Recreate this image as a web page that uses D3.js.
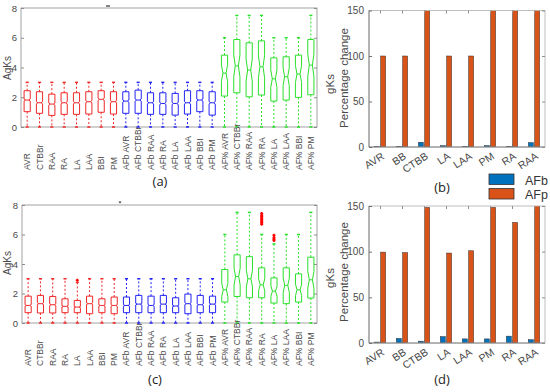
<!DOCTYPE html>
<html>
<head>
<meta charset="utf-8">
<script src="https://cdn.jsdelivr.net/npm/d3@7"></script>
<style>
  body { margin: 0; background: #fff; }
  svg { display: block; font-family: Arial, "Liberation Sans", sans-serif; }
</style>
</head>
<body>
<svg id="chart" width="550" height="392"></svg>
<script>
// ---- box plot data (panels a and c) ----
const boxCategories = ["AVR", "CTBBr", "RAA", "RA", "LA", "LAA", "BBI", "PM",
  "AFb AVR", "AFb CTBBr", "AFb RAA", "AFb RA", "AFb LA", "AFb LAA", "AFb BBI", "AFb PM",
  "AF% AVR", "AF% CTBBr", "AF% RAA", "AF% RA", "AF% LA", "AF% LAA", "AF% BBI", "AF% PM"];
const boxGroup = [0, 0, 0, 0, 0, 0, 0, 0, 1, 1, 1, 1, 1, 1, 1, 1, 2, 2, 2, 2, 2, 2, 2, 2];
const yTicksBox = [0, 2, 4, 6, 8];

const q1A  = [1.03, 0.92, 0.78, 0.85, 0.85, 0.87, 0.99, 0.87, 0.92, 0.92, 0.85, 0.85, 0.80, 0.87, 1.03, 0.80, 2.08, 2.30, 2.03, 2.15, 1.74, 1.81, 1.99, 2.17];
const medA = [1.81, 1.63, 1.54, 1.63, 1.63, 1.70, 1.86, 1.70, 1.74, 1.81, 1.63, 1.58, 1.58, 1.63, 1.81, 1.63, 3.62, 4.11, 3.83, 4.05, 3.24, 3.38, 3.56, 4.16];
const q3A  = [2.44, 2.37, 2.21, 2.30, 2.30, 2.37, 2.44, 2.37, 2.37, 2.48, 2.30, 2.30, 2.26, 2.44, 2.44, 2.37, 4.83, 5.88, 5.66, 5.79, 4.65, 4.72, 4.83, 5.88];
const loA  = [0, 0, 0, 0, 0, 0, 0, 0, 0, 0, 0, 0, 0, 0, 0, 0, 0, 0, 0, 0, 0, 0, 0, 0];
const hiA  = [3, 3, 3, 3, 3, 3, 3, 3, 3, 3, 3, 3, 3, 3, 3, 3, 6, 7.5, 7.5, 7.5, 6, 6, 6, 7.5];

const q1C  = [0.70, 0.68, 0.68, 0.70, 0.70, 0.63, 0.70, 0.63, 0.70, 0.70, 0.70, 0.70, 0.70, 0.63, 0.70, 0.70, 1.42, 1.80, 1.71, 1.71, 1.35, 1.31, 1.42, 1.69];
const medC = [1.19, 1.31, 1.24, 1.13, 1.08, 1.31, 1.19, 1.19, 1.19, 1.28, 1.19, 1.28, 1.15, 1.31, 1.24, 1.28, 2.25, 3.15, 3.00, 2.59, 2.16, 2.55, 2.25, 2.93];
const q3C  = [1.82, 1.87, 1.80, 1.64, 1.53, 1.82, 1.64, 1.76, 1.76, 1.87, 1.82, 1.87, 1.71, 1.96, 1.87, 1.82, 3.63, 4.62, 4.50, 3.74, 3.06, 3.74, 3.33, 4.46];
const loC  = [0, 0, 0, 0, 0, 0, 0, 0, 0, 0, 0, 0, 0, 0, 0, 0, 0, 0, 0, 0, 0, 0, 0, 0];
const hiC  = [3, 3, 3, 3, 2.75, 3, 3, 3, 3, 3, 3, 3, 3, 3, 3, 3, 6, 7.5, 7.5, 6, 5.36, 6, 6, 7.5];
const outlierBoxC = [4, 19, 19, 19, 19, 19, 19, 19, 19, 20, 20, 20, 20];
const outlierValC = [2.9, 6.7, 6.8, 6.9, 7.0, 7.1, 7.2, 7.3, 7.42, 5.6, 5.7, 5.8, 5.95];

// ---- bar data (panels b and d) ----
const barCategories = ["AVR", "BB", "CTBB", "LA", "LAA", "PM", "RA", "RAA"];
const barSeries = ["AFb", "AFp"];
const yTicksBar = [0, 50, 100, 150];
const afbB = [0.3, 0.8, 5.2, 1.5, 0.8, 1.5, 0.8, 4.8];
const afpB = [100, 100, 165, 100, 100, 165, 165, 165];
const afbD = [1.0, 5.0, 2.0, 7.0, 4.5, 4.5, 7.5, 3.6];
const afpD = [99.5, 99, 148.5, 98.5, 101, 148.5, 132, 152];

// ---- styles ----
const axisGray = "#8c8c8c";
const textGray = "#4a4a4a";
const groupColors = ["#f02828", "#2424f4", "#2ae02a"];
const groupSamples = [1000, 1000, 60];   // sample size behind the notch width
const seriesColors = ["#0072BD", "#D95319"];

const svg = d3.select("#chart");

function boxPanel(p) {
  const n = boxCategories.length;
  const x = d3.scaleLinear().domain([0.5, n + 0.5]).range([p.left, p.right]);
  const y = d3.scaleLinear().domain([0, 8]).range([p.bottom, p.top]);
  const g = svg.append("g");

  g.append("rect")
    .attr("x", p.left).attr("y", p.top)
    .attr("width", p.right - p.left).attr("height", p.bottom - p.top)
    .attr("fill", "none").attr("stroke", axisGray).attr("stroke-width", 0.8);

  const ax = g.append("g").attr("transform", `translate(${p.left},0)`)
    .call(d3.axisLeft(y).tickValues(yTicksBox).tickSize(-3).tickPadding(4));
  ax.select(".domain").remove();
  ax.selectAll("line").attr("stroke", axisGray);
  ax.selectAll("text").attr("fill", textGray).attr("font-size", 9.5).attr("font-family", null);

  const axr = g.append("g").attr("transform", `translate(${p.right},0)`)
    .call(d3.axisRight(y).tickValues(yTicksBox).tickSize(-3).tickFormat(""));
  axr.select(".domain").remove();
  axr.selectAll("line").attr("stroke", axisGray);

  g.append("text")
    .attr("transform", `translate(11,${p.ylabelY}) rotate(-90)`)
    .attr("text-anchor", "middle").attr("font-size", 10).attr("fill", textGray)
    .text("AgKs");

  const hw = x(1.25) - x(1);
  const ind = hw * 0.5;
  const boxes = g.selectAll(".box").data(d3.range(n)).join("g").attr("class", "box")
    .attr("fill", "none")
    .attr("stroke", i => groupColors[boxGroup[i]]);

  boxes.each(function (i) {
    const b = d3.select(this);
    const cx = x(i + 1);
    const q1 = p.q1[i], q3 = p.q3[i], md = p.med[i];
    const nh = 1.57 * (q3 - q1) / Math.sqrt(groupSamples[boxGroup[i]]);
    const path = d3.path();
    path.moveTo(cx - hw, y(q1));
    path.lineTo(cx - hw, y(md - nh));
    path.lineTo(cx - hw + ind, y(md));
    path.lineTo(cx - hw, y(md + nh));
    path.lineTo(cx - hw, y(q3));
    path.lineTo(cx + hw, y(q3));
    path.lineTo(cx + hw, y(md + nh));
    path.lineTo(cx + hw - ind, y(md));
    path.lineTo(cx + hw, y(md - nh));
    path.lineTo(cx + hw, y(q1));
    path.closePath();
    b.append("path").attr("d", path.toString()).attr("stroke-width", 1);
    b.append("line").attr("x1", cx - hw + ind).attr("x2", cx + hw - ind)
      .attr("y1", y(md)).attr("y2", y(md)).attr("stroke-width", 1);
    [[q3, p.hi[i]], [q1, p.lo[i]]].forEach(([a, e]) => {
      b.append("line").attr("x1", cx).attr("x2", cx).attr("y1", y(a)).attr("y2", y(e))
        .attr("stroke-dasharray", "2,2").attr("stroke-width", 1);
      b.append("line").attr("x1", cx - hw * 0.5).attr("x2", cx + hw * 0.5)
        .attr("y1", y(e)).attr("y2", y(e)).attr("stroke-width", 1.5);
    });
  });

  if (p.outBox) {
    g.selectAll(".outlier").data(d3.range(p.outBox.length)).join("path")
      .attr("d", k => {
        const cx = x(p.outBox[k] + 1), cy = y(p.outVal[k]);
        return `M${cx - 1.5},${cy}H${cx + 1.5}M${cx},${cy - 1.5}V${cy + 1.5}`;
      })
      .attr("stroke", "#ff0000").attr("stroke-width", 1.6).attr("fill", "none");
  }

  g.selectAll(".cat").data(boxCategories).join("text")
    .attr("transform", (d, i) => `translate(${x(i + 1) + 3},${p.labelBase}) rotate(-90)`)
    .attr("font-size", 8.5).attr("fill", textGray)
    .text(d => d);

  g.append("text").attr("x", p.capX).attr("y", p.capY).attr("text-anchor", "middle")
    .attr("font-family", "'Open Sans', sans-serif").attr("font-size", 13).attr("fill", "#222")
    .text(p.caption);
}

function barPanel(p) {
  const n = barCategories.length;
  const x = d3.scaleLinear().domain([0.5, n + 0.5]).range([p.left, p.right]);
  const y = d3.scaleLinear().domain([0, 150]).range([p.bottom, p.top]);
  const g = svg.append("g");
  const clipId = "clip" + p.caption.replace(/\W/g, "");
  g.append("clipPath").attr("id", clipId).append("rect")
    .attr("x", p.left).attr("y", p.top).attr("width", p.right - p.left).attr("height", p.bottom - p.top);

  const bw = x(1.229) - x(1);
  const off = x(1.143) - x(1);
  const series = [p.afb, p.afp];
  const bars = g.append("g").attr("clip-path", `url(#${clipId})`);
  series.forEach((vals, s) => {
    bars.selectAll(".s" + s).data(vals).join("rect")
      .attr("x", (d, i) => x(i + 1) + (s === 0 ? -off : off) - bw / 2)
      .attr("y", d => y(Math.max(d, 0)))
      .attr("width", bw)
      .attr("height", d => Math.abs(y(d) - y(0)))
      .attr("fill", seriesColors[s]).attr("stroke", "#333").attr("stroke-width", 0.5);
  });

  g.append("rect")
    .attr("x", p.left).attr("y", p.top)
    .attr("width", p.right - p.left).attr("height", p.bottom - p.top)
    .attr("fill", "none").attr("stroke", "#b0b0b0").attr("stroke-width", 0.8);
  g.append("line").attr("x1", p.left).attr("x2", p.left).attr("y1", p.top).attr("y2", p.bottom)
    .attr("stroke", "#707070").attr("stroke-width", 0.8);
  g.append("line").attr("x1", p.left).attr("x2", p.right).attr("y1", p.bottom).attr("y2", p.bottom)
    .attr("stroke", "#707070").attr("stroke-width", 0.8);

  const ax = g.append("g").attr("transform", `translate(${p.left},0)`)
    .call(d3.axisLeft(y).tickValues(yTicksBar).tickSize(-3).tickPadding(5));
  ax.select(".domain").remove();
  ax.selectAll("line").attr("stroke", "#707070");
  ax.selectAll("text").attr("fill", textGray).attr("font-size", 10).attr("font-family", null);
  const axr = g.append("g").attr("transform", `translate(${p.right},0)`)
    .call(d3.axisRight(y).tickValues(yTicksBar).tickSize(-3).tickFormat(""));
  axr.select(".domain").remove();
  axr.selectAll("line").attr("stroke", "#909090");

  const axb = g.append("g").attr("transform", `translate(0,${p.bottom})`)
    .call(d3.axisBottom(x).tickValues(d3.range(1, n + 1)).tickSize(-3).tickFormat(""));
  axb.select(".domain").remove();
  axb.selectAll("line").attr("stroke", "#707070");
  const axt = g.append("g").attr("transform", `translate(0,${p.top})`)
    .call(d3.axisTop(x).tickValues(d3.range(1, n + 1)).tickSize(-3).tickFormat(""));
  axt.select(".domain").remove();
  axt.selectAll("line").attr("stroke", "#909090");

  g.selectAll(".xl").data(barCategories).join("text")
    .attr("transform", (d, i) => `translate(${x(i + 1) + 5},${p.bottom + 11}) rotate(-33)`)
    .attr("text-anchor", "end").attr("font-size", 10.5).attr("fill", textGray)
    .text(d => d);

  g.append("text")
    .attr("transform", `translate(334,${p.ylabelY + 6}) rotate(-90)`)
    .attr("text-anchor", "middle").attr("font-size", 11.5).attr("fill", textGray).text("gKs");
  g.append("text")
    .attr("transform", `translate(348,${p.ylabelY}) rotate(-90)`)
    .attr("text-anchor", "middle").attr("font-size", 11.5).attr("fill", textGray).text("Percentage change");

  g.append("text").attr("x", p.capX).attr("y", p.capY).attr("text-anchor", "middle")
    .attr("font-family", "'Open Sans', sans-serif").attr("font-size", 13).attr("fill", "#222")
    .text(p.caption);
}

boxPanel({ left: 21, right: 317, top: 8, bottom: 127, labelBase: 170, ylabelY: 68,
  q1: q1A, med: medA, q3: q3A, lo: loA, hi: hiA, caption: "(a)", capX: 160, capY: 186 });
boxPanel({ left: 22, right: 317, top: 205, bottom: 323, labelBase: 366, ylabelY: 263,
  q1: q1C, med: medC, q3: q3C, lo: loC, hi: hiC, outBox: outlierBoxC, outVal: outlierValC,
  caption: "(c)", capX: 155, capY: 384 });
barPanel({ left: 369, right: 545, top: 10.5, bottom: 147, ylabelY: 78,
  afb: afbB, afp: afpB, caption: "(b)", capX: 442, capY: 192 });
barPanel({ left: 369, right: 545, top: 206, bottom: 343, ylabelY: 272,
  afb: afbD, afp: afpD, caption: "(d)", capX: 442, capY: 384 });

// legend
const leg = svg.append("g").attr("transform", "translate(489,174)");
leg.selectAll("rect").data(barSeries).join("rect")
  .attr("x", 0).attr("y", (d, i) => i * 14.5)
  .attr("width", 25).attr("height", 10.5)
  .attr("fill", (d, i) => seriesColors[i]).attr("stroke", "#333").attr("stroke-width", 0.8);
leg.selectAll("text").data(barSeries).join("text")
  .attr("x", 36).attr("y", (d, i) => i * 14.5 + 10.5)
  .attr("font-size", 12.5).attr("fill", "#333")
  .text(d => d);

// small marks at the top of the box panels
svg.append("path").attr("d", "M106,6H110").attr("stroke", "#333").attr("stroke-width", 1.2);
svg.append("path").attr("d", "M118.5,201.5L121.5,201.5L120,203.5Z").attr("fill", "#333");
</script>
</body>
</html>
